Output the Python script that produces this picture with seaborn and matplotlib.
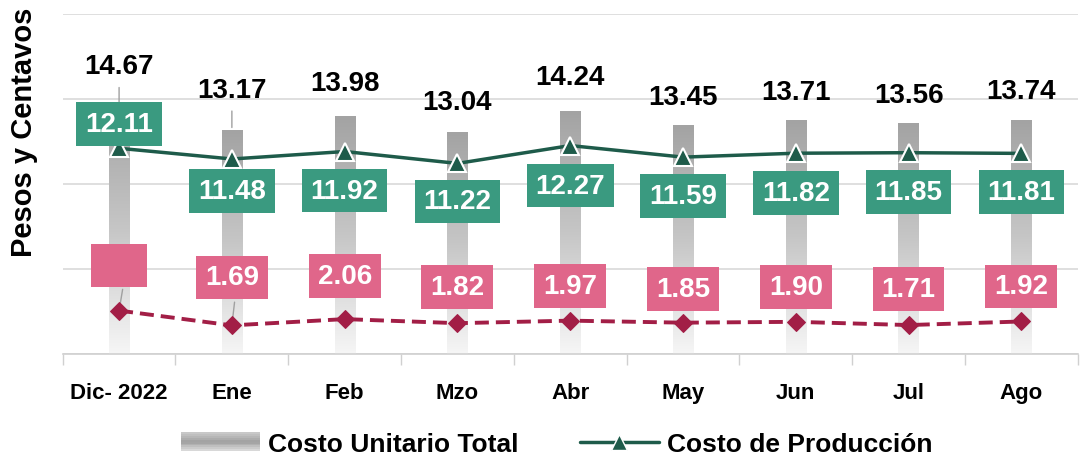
import numpy as np
import pandas as pd
import seaborn as sns
import matplotlib.pyplot as plt
from matplotlib.legend_handler import HandlerBase
from matplotlib.lines import Line2D
from matplotlib.patches import Rectangle

# DATA
meses = ["Dic- 2022", "Ene", "Feb", "Mzo", "Abr", "May", "Jun", "Jul", "Ago"]
costo_total = [14.67, 13.17, 13.98, 13.04, 14.24, 13.45, 13.71, 13.56, 13.74]
costo_produccion = [12.11, 11.48, 11.92, 11.22, 12.27, 11.59, 11.82, 11.85, 11.81]
otros_costos = [2.56, 1.69, 2.06, 1.82, 1.97, 1.85, 1.90, 1.71, 1.92]
# the first pink label is shown empty in the original
otros_labels = ["", "1.69", "2.06", "1.82", "1.97", "1.85", "1.90", "1.71", "1.92"]

# LABEL OFFSETS (pixels, relative to the point)
off_total = [39, 40, 34, 30, 35, 29, 29, 29, 30]
off_prod = [24, -32, -39, -38, -40, -39, -40, -39, -39]
off_otros = [45, 48, 43, 36, 35, 34, 35, 36, 35]

GREEN_LINE = "#1E5B4A"
GREEN_BOX = "#3A9A80"
RED_LINE = "#A21E46"
PINK_BOX = "#E0668A"
FONT = ["Liberation Sans Narrow", "Liberation Sans", "DejaVu Sans"]

df = pd.DataFrame({"mes": meses, "total": costo_total,
                   "produccion": costo_produccion, "otros": otros_costos})
df["x"] = np.arange(len(meses))

# PLOT SETTING
sns.set_theme(style="white")
plt.rcParams["font.family"] = FONT
plt.rcParams["text.color"] = "black"
plt.rcParams["xtick.color"] = "black"
plt.rcParams["axes.labelcolor"] = "black"
fig, ax = plt.subplots(figsize=(10.81, 4.6), dpi=100)
fig.subplots_adjust(left=0.058, right=0.997, top=0.967, bottom=0.228)

# BARS (gradient fill)
sns.barplot(x="x", y="total", data=df, ax=ax, width=0.18, color="#B0B0B0",
            native_scale=True, zorder=2)
grad = np.linspace(0, 1, 256).reshape(-1, 1)
cmap = sns.blend_palette(["#A3A3A3", "#C6C6C6", "#F6F6F6"], as_cmap=True)
for p in ax.patches:
    x0, y0 = p.get_x(), p.get_y()
    w, h = p.get_width(), p.get_height()
    p.set_facecolor("none")
    p.set_edgecolor("none")
    ax.imshow(grad, extent=(x0, x0 + w, y0, y0 + h), cmap=cmap, aspect="auto",
              origin="upper", zorder=2)

# LINES
sns.lineplot(x="x", y="produccion", data=df, ax=ax, color=GREEN_LINE, lw=2.5,
             marker="^", markersize=13, markeredgecolor="white",
             markeredgewidth=1.5, zorder=4)
sns.lineplot(x="x", y="otros", data=df, ax=ax, color=RED_LINE, lw=2.8,
             marker="D", markersize=9, markeredgecolor=RED_LINE,
             zorder=4)
ax.lines[-1].set_dashes((3.6, 1.8))

# LABELS
for i, row in df.iterrows():
    ax.annotate(f"{row.total:.2f}", (row.x, row.total), xytext=(0, off_total[i]),
                textcoords="offset pixels", ha="center", va="center",
                fontsize=20, fontweight="bold", color="black", zorder=6)
    ax.annotate(f"{row.produccion:.2f}", (row.x, row.produccion),
                xytext=(0, off_prod[i]), textcoords="offset pixels",
                ha="center", va="center", fontsize=20, fontweight="bold",
                color="white", zorder=6,
                bbox=dict(boxstyle="square,pad=0.32", fc=GREEN_BOX, ec="none"))
    txt = otros_labels[i] if otros_labels[i] else "0.0"
    ax.annotate(txt, (row.x, row.otros), xytext=(0, off_otros[i]),
                textcoords="offset pixels", ha="center", va="center",
                fontsize=20, fontweight="bold", zorder=6,
                color="white" if otros_labels[i] else PINK_BOX,
                bbox=dict(boxstyle="square,pad=0.32", fc=PINK_BOX, ec="none"))

# leader lines
ax.annotate("", (df.x[0], costo_total[0] - 0.35), xytext=(0, 26),
            textcoords="offset pixels",
            arrowprops=dict(arrowstyle="-", color="#A0A0A0", lw=1), zorder=3)
ax.annotate("", (df.x[1], costo_total[1]), xytext=(0, 22),
            textcoords="offset pixels",
            arrowprops=dict(arrowstyle="-", color="#A0A0A0", lw=1), zorder=3)
ax.annotate("", (df.x[0], otros_costos[0]), xytext=(4, 24),
            textcoords="offset pixels",
            arrowprops=dict(arrowstyle="-", color="#A0A0A0", lw=1), zorder=3)
ax.annotate("", (df.x[1], otros_costos[1]), xytext=(3, 26),
            textcoords="offset pixels",
            arrowprops=dict(arrowstyle="-", color="#A0A0A0", lw=1), zorder=3)

# AXES
ax.set_ylim(0, 20)
ax.set_xlim(-0.5, len(meses) - 0.5)
ax.set_yticks([0, 5, 10, 15, 20])
ax.set_yticklabels([])
ax.tick_params(axis="y", length=0)
ax.yaxis.grid(True, color="#D9D9D9", lw=1.2)
ax.set_axisbelow(True)
ax.set_xticks(df.x)
ax.set_xticklabels(meses, fontsize=16, fontweight="bold")
ax.set_xticks(np.arange(-0.5, len(meses), 1), minor=True)
ax.tick_params(axis="x", which="major", length=0, pad=20)
ax.tick_params(axis="x", which="minor", length=8, width=1, color="#D0D0D0",
               bottom=True)
ax.set_xlabel("")
ax.set_ylabel("Pesos y Centavos", fontsize=21, fontweight="bold",
              family=["Liberation Sans", "DejaVu Sans"])
ax.yaxis.set_label_coords(-0.024, 0.656)
for s in ["top", "right", "left"]:
    ax.spines[s].set_visible(False)
ax.spines["bottom"].set_color("#D0D0D0")
ax.spines["bottom"].set_linewidth(1.2)


# LEGEND
class GradientHandler(HandlerBase):
    def create_artists(self, legend, orig, xd, yd, width, height, fontsize, trans):
        arts = []
        n = 10
        shades = sns.blend_palette(["#C8C8C8", "#9E9E9E", "#D8D8D8"], n)
        for k in range(n):
            r = Rectangle((xd, yd + height * k / n), width, height / n + 0.3,
                          fc=shades[n - 1 - k], ec="none", transform=trans)
            arts.append(r)
        return arts


bar_handle = Rectangle((0, 0), 1, 1)
line_handle = Line2D([], [], color=GREEN_LINE, lw=2.5, marker="^",
                     markersize=12, markeredgecolor="white")
fig.legend([bar_handle, line_handle], ["Costo Unitario Total", "Costo de Producción"],
           handler_map={Rectangle: GradientHandler()},
           loc="lower center", bbox_to_anchor=(0.515, -0.045), ncol=2, frameon=False,
           prop=dict(family=FONT, weight="bold", size=19),
           handlelength=3.0, handleheight=0.7, columnspacing=2.3, handletextpad=0.3)

plt.savefig("out.png", dpi=100)
plt.close()
